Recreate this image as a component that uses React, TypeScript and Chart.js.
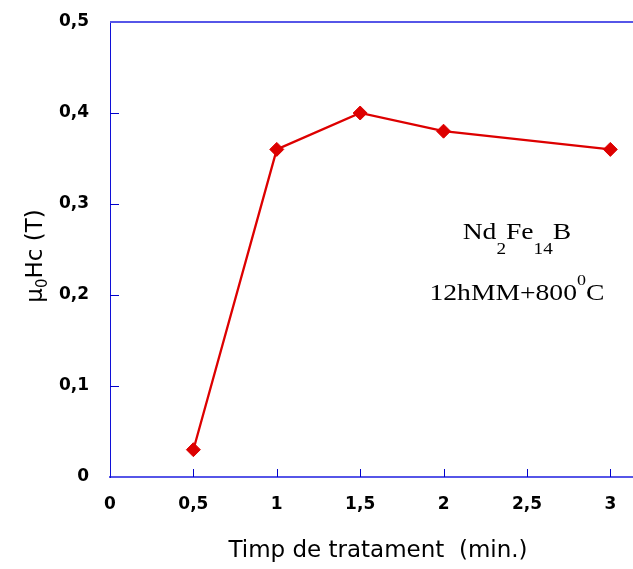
import React, { useEffect, useRef } from 'react';
import { Chart, registerables } from 'chart.js';
Chart.register(...registerables);

const treatmentTimes = [0.5, 1, 1.5, 2, 3];
const coercivity = [0.03, 0.36, 0.4, 0.38, 0.36];
const xTickValues = [0, 0.5, 1, 1.5, 2, 2.5, 3];
const yTickValues = [0, 0.1, 0.2, 0.3, 0.4, 0.5];
const xTitle = 'Timp de tratament  (min.)';
const yTitleParts = ['\u03bc', '0', 'Hc (T)'];
const noteLine1 = ['Nd', '2', 'Fe', '14', 'B'];
const noteLine2 = ['12hMM+800', '0', 'C'];
const noteAnchor = { x: 2.44, y1: 0.262, y2: 0.195 };

const AXIS = '#1010d8';
const AXIS_LIGHT = '#5656e8';
const RED = '#dd0000';

const fmt = (v: number) => String(v).replace('.', ',');

const decor = {
  id: 'decor',
  afterDatasetsDraw(chart: any) {
    const { ctx, chartArea, scales, width } = chart;
    const xs = scales.x;
    const ys = scales.y;
    ctx.save();
    // top border
    ctx.strokeStyle = AXIS_LIGHT;
    ctx.lineWidth = 2;
    ctx.beginPath();
    ctx.moveTo(chartArea.left, Math.round(chartArea.top));
    ctx.lineTo(width, Math.round(chartArea.top));
    ctx.stroke();
    // inward ticks
    ctx.lineWidth = 1;
    ctx.strokeStyle = '#0000cc';
    yTickValues.forEach((v) => {
      if (v === 0 || v === 0.5) return;
      const y = Math.round(ys.getPixelForValue(v)) + 0.5;
      ctx.beginPath();
      ctx.moveTo(chartArea.left, y);
      ctx.lineTo(chartArea.left + 9, y);
      ctx.stroke();
    });
    xTickValues.forEach((v) => {
      if (v === 0) return;
      const x = Math.round(xs.getPixelForValue(v)) + 0.5;
      ctx.beginPath();
      ctx.moveTo(x, chartArea.bottom);
      ctx.lineTo(x, chartArea.bottom - 8);
      ctx.stroke();
    });
    ctx.restore();
  },
  afterDraw(chart: any) {
    const { ctx, scales } = chart;
    const xs = scales.x;
    const ys = scales.y;
    ctx.save();
    ctx.fillStyle = '#000';
    // x title
    ctx.font = '23px "DejaVu Sans"';
    ctx.textAlign = 'center';
    ctx.textBaseline = 'alphabetic';
    ctx.fillText(xTitle, 378, 557);

    // y title rotated
    ctx.save();
    ctx.translate(42, 256);
    ctx.rotate(-Math.PI / 2);
    ctx.textAlign = 'left';
    const big = '23px "DejaVu Sans"';
    const small = '15px "DejaVu Sans"';
    ctx.font = big;
    const w0 = ctx.measureText(yTitleParts[0]).width;
    const w2 = ctx.measureText(yTitleParts[2]).width;
    ctx.font = small;
    const w1 = ctx.measureText(yTitleParts[1]).width;
    let cx = -(w0 + w1 + w2) / 2;
    ctx.font = big;
    ctx.fillText(yTitleParts[0], cx, 0);
    cx += w0;
    ctx.font = small;
    ctx.fillText(yTitleParts[1], cx, 5);
    cx += w1;
    ctx.font = big;
    ctx.fillText(yTitleParts[2], cx, 0);
    ctx.restore();

    // annotation
    const drawRich = (parts: string[], kinds: number[], centerX: number, baseY: number) => {
      const sx = 1.2;
      const fonts = ['23px "Liberation Serif"', '16px "Liberation Serif"', '15px "Liberation Serif"'];
      const offs = [0, 15, -15];
      let total = 0;
      const widths = parts.map((p, i) => {
        ctx.font = fonts[kinds[i]];
        const w = ctx.measureText(p).width;
        total += w;
        return w;
      });
      ctx.save();
      ctx.translate(centerX, baseY);
      ctx.scale(sx, 1);
      let x = -total / 2;
      ctx.textAlign = 'left';
      parts.forEach((p, i) => {
        ctx.font = fonts[kinds[i]];
        ctx.fillText(p, x, offs[kinds[i]]);
        x += widths[i];
      });
      ctx.restore();
    };
    const ax = xs.getPixelForValue(noteAnchor.x);
    drawRich(noteLine1, [0, 1, 0, 1, 0], ax, ys.getPixelForValue(noteAnchor.y1));
    drawRich(noteLine2, [0, 2, 0], ax, ys.getPixelForValue(noteAnchor.y2));
    ctx.restore();
  },
};

export default function App() {
  const ref = useRef<HTMLCanvasElement | null>(null);
  useEffect(() => {
    if (!ref.current) return;
    const chart = new Chart(ref.current, {
      type: 'line',
      data: {
        datasets: [
          {
            data: treatmentTimes.map((t, i) => ({ x: t, y: coercivity[i] })),
            borderColor: RED,
            backgroundColor: RED,
            borderWidth: 2.3,
            pointStyle: 'rectRot',
            pointRadius: 7,
            pointBorderWidth: 1,
            pointBorderColor: RED,
            pointBackgroundColor: RED,
            tension: 0,
            clip: false as any,
          },
        ],
      },
      options: {
        animation: false,
        responsive: true,
        maintainAspectRatio: false,
        layout: { autoPadding: false, padding: { left: 0, top: 22, right: 1, bottom: 0 } },
        plugins: { legend: { display: false }, tooltip: { enabled: false } },
        scales: {
          x: {
            type: 'linear',
            min: 0,
            max: 3.13,
            afterBuildTicks: (s: any) => {
              s.ticks = xTickValues.map((v) => ({ value: v }));
            },
            afterFit: (s: any) => {
              s.height = 92;
              s.paddingLeft = 0;
              s.paddingRight = 0;
            },
            grid: { display: false },
            border: { display: true, color: AXIS_LIGHT, width: 2 },
            ticks: {
              color: '#000',
              padding: 9,
              maxRotation: 0,
              autoSkip: false,
              font: { family: 'DejaVu Sans', size: 17, weight: 'bold' },
              callback: (v: any) => fmt(Number(v)),
            },
          },
          y: {
            type: 'linear',
            min: 0,
            max: 0.5,
            afterBuildTicks: (s: any) => {
              s.ticks = yTickValues.map((v) => ({ value: v }));
            },
            afterFit: (s: any) => {
              s.width = 110;
              s.paddingTop = 0;
              s.paddingBottom = 0;
            },
            grid: { display: false },
            border: { display: true, color: AXIS, width: 1 },
            ticks: {
              color: '#000',
              padding: 13,
              autoSkip: false,
              font: { family: 'DejaVu Sans', size: 17, weight: 'bold' },
              callback: (v: any) => fmt(Number(v)),
            },
          },
        },
      },
      plugins: [decor],
    });
    return () => chart.destroy();
  }, []);
  return (
    <div style={{ position: 'fixed', left: 0, top: 0, width: 633, height: 569, background: '#fff' }}>
      <canvas ref={ref} />
    </div>
  );
}
